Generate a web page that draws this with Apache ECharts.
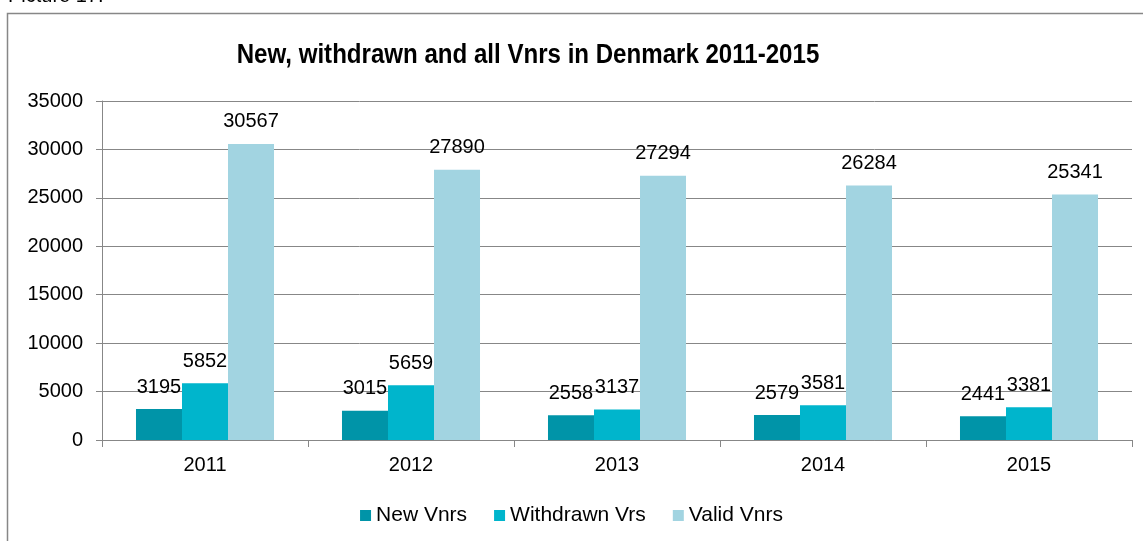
<!DOCTYPE html>
<html>
<head>
<meta charset="utf-8">
<script src="https://cdn.jsdelivr.net/npm/echarts@6/dist/echarts.min.js"></script>
<style>
  html, body { margin: 0; padding: 0; background: #fff; }
  #chart { width: 1143px; height: 541px; }
</style>
</head>
<body>
<div id="chart"></div>
<script>
const years = ['2011', '2012', '2013', '2014', '2015']
const newVnrs = [3195, 3015, 2558, 2579, 2441]
const withdrawnVrs = [5852, 5659, 3137, 3581, 3381]
const validVnrs = [30567, 27890, 27294, 26284, 25341]
const seriesNames = ['New Vnrs', 'Withdrawn Vrs', 'Valid Vnrs']
const chartTitle = 'New, withdrawn and all Vnrs in Denmark 2011-2015'

const font = 'Liberation Sans, Arial, sans-serif'
const gridColor = '#878787'

const chart = echarts.init(document.getElementById('chart'))

const label = {
  show: true,
  position: 'top',
  distance: 12,
  color: '#000',
  fontFamily: font,
  fontSize: 20
}

const bar = (name, data, color) => ({
  name: name,
  type: 'bar',
  data: data,
  barGap: '0%',
  barCategoryGap: '33%',
  itemStyle: { color: color },
  label: label
})

chart.setOption({
  animation: false,
  graphic: [
    {
      type: 'rect',
      shape: { x: 7.5, y: 13.5, width: 1200, height: 600 },
      style: { fill: 'none', stroke: gridColor, lineWidth: 1.5 },
      silent: true
    },
    {
      type: 'text',
      left: 8,
      top: -14,
      style: { text: 'Picture 17:', fontFamily: font, fontSize: 20, fill: '#000' },
      silent: true
    },
    {
      // narrow bold title: no Arial Narrow here, so squeeze the bold face
      type: 'text',
      x: 528,
      y: 55,
      scaleX: 0.86,
      style: {
        text: chartTitle,
        fontFamily: font,
        fontWeight: 'bold',
        fontSize: 28,
        fill: '#000',
        align: 'center',
        verticalAlign: 'middle'
      },
      silent: true
    }
  ],
  legend: {
    data: seriesNames,
    bottom: 10,
    left: 'center',
    icon: 'rect',
    itemWidth: 11,
    itemHeight: 11,
    itemGap: 27,
    textStyle: { fontFamily: font, fontSize: 21, color: '#000' }
  },
  grid: { left: 102, right: 11, top: 101, bottom: 101 },
  xAxis: {
    type: 'category',
    data: years,
    axisLine: { lineStyle: { color: gridColor, width: 1 } },
    axisTick: { show: true, length: 7, lineStyle: { color: gridColor } },
    axisLabel: { fontFamily: font, fontSize: 20, color: '#000', margin: 15 }
  },
  yAxis: {
    type: 'value',
    min: 0,
    max: 35000,
    interval: 5000,
    axisLine: { show: true, lineStyle: { color: gridColor, width: 1 } },
    axisTick: { show: true, length: 6, lineStyle: { color: gridColor } },
    axisLabel: {
      fontFamily: font,
      fontSize: 20,
      color: '#000',
      margin: 19,
      formatter: (v) => String(v) // no thousands separator
    },
    splitLine: { lineStyle: { color: gridColor, width: 1 } }
  },
  series: [
    bar(seriesNames[0], newVnrs, '#0094A8'),
    bar(seriesNames[1], withdrawnVrs, '#00B5CC'),
    bar(seriesNames[2], validVnrs, '#A2D4E1')
  ]
})
</script>
</body>
</html>
